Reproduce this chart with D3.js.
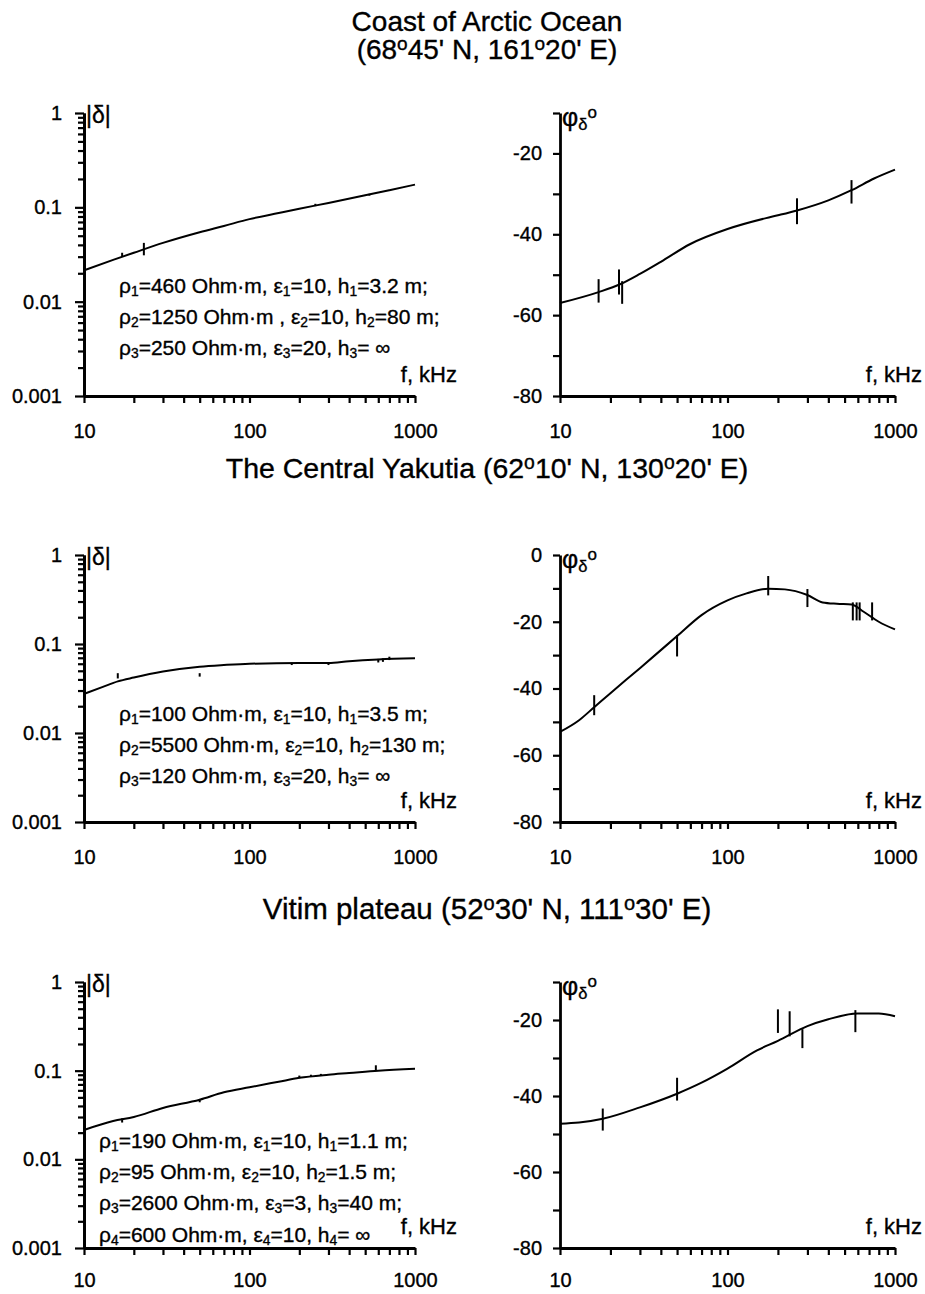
<!DOCTYPE html>
<html>
<head>
<meta charset="utf-8">
<script src="https://cdn.jsdelivr.net/npm/d3@7"></script>
<style>
  body { margin: 0; background: #fff; }
  svg { font-family: "Liberation Sans", Arial, sans-serif; }
  svg text { fill: #000; stroke: #000; stroke-width: 0.35; }
  .axis path { stroke: #000; stroke-width: 2.8; }
  .axis line { stroke: #000; stroke-width: 2.2; }
  .axis text { font-size: 20px; font-family: "Liberation Sans", Arial, sans-serif; }
  .curve { fill: none; stroke: #000; stroke-width: 2; }
  .bar { stroke: #000; stroke-width: 2; }
</style>
</head>
<body>
<svg id="fig" width="925" height="1294"></svg>
<script>

// ---- Coast of Arctic Ocean ----
let arcticFreq  = [10, 15, 20, 30, 50, 70, 100, 150, 200, 300, 500, 700, 1000];
let arcticMag   = [0.0215, 0.0277, 0.033, 0.042, 0.0545, 0.0635, 0.075, 0.087, 0.0966, 0.1114, 0.134, 0.152, 0.174];
let arcticPhFreq = [10, 17, 23, 30, 40, 60, 100, 170, 200, 260, 400, 550, 750, 1000];
let arcticPhase  = [-57, -54.3, -52.3, -49.8, -46.8, -42.4, -38.7, -36, -35.3, -34.1, -31.6, -29.1, -26.2, -24];
// measured points: [f, low, high] for |δ|, [f, value, half-range] for phase
let arcticMagObs   = [[17, 0.030, 0.033], [23, 0.031, 0.042], [250, 0.103, 0.109], [530, 0.133, 0.139]];
let arcticPhaseObs = [[17, -54, 2.9], [22.5, -51.8, 3.1], [23.5, -54.4, 2.8], [260, -34.3, 3.2], [550, -29.5, 2.9]];
let arcticParams = [
    'ρ_1=460 Ohm·m, ε_1=10, h_1=3.2 m;',
    'ρ_2=1250 Ohm·m , ε_2=10, h_2=80 m;',
    'ρ_3=250 Ohm·m, ε_3=20, h_3= ∞'
];

// ---- The Central Yakutia ----
let yakutFreq  = [10, 13, 16, 20, 30, 50, 70, 100, 200, 300, 400, 600, 1000];
let yakutMag   = [0.0275, 0.033, 0.038, 0.042, 0.049, 0.0555, 0.058, 0.060, 0.061, 0.061, 0.064, 0.067, 0.069];
let yakutPhFreq = [10, 13, 16, 20, 30, 40, 50, 70, 100, 130, 175, 220, 300, 370, 450, 550, 650, 800, 1000];
let yakutPhase  = [-53, -49.5, -45.6, -41.4, -33.9, -28.5, -24.3, -18, -13.6, -11.5, -10.1, -10.3, -12, -14.2, -14.6, -14.8, -17, -20, -22.3];
let yakutMagObs   = [[16, 0.041, 0.047], [50, 0.043, 0.047], [180, 0.058, 0.062], [300, 0.058, 0.062],
                     [600, 0.062, 0.068], [640, 0.063, 0.069], [700, 0.066, 0.072]];
let yakutPhaseObs = [[16, -45, 3], [50, -27.2, 3.2], [175, -9.2, 2.9], [300, -12.9, 2.7],
                     [560, -16.9, 2.7], [590, -16.9, 2.7], [615, -16.9, 2.7], [730, -16.9, 2.7]];
let yakutParams = [
    'ρ_1=100 Ohm·m, ε_1=10, h_1=3.5 m;',
    'ρ_2=5500 Ohm·m, ε_2=10, h_2=130 m;',
    'ρ_3=120 Ohm·m, ε_3=20, h_3= ∞'
];

// ---- Vitim plateau ----
let vitimFreq  = [10, 15, 20, 30, 50, 70, 100, 150, 200, 300, 400, 600, 1000];
let vitimMag   = [0.0214, 0.027, 0.030, 0.038, 0.047, 0.057, 0.065, 0.075, 0.083, 0.090, 0.094, 0.100, 0.105];
let vitimPhFreq = [10, 13, 18, 30, 50, 70, 100, 150, 200, 300, 400, 600, 800, 1000];
let vitimPhase  = [-47.3, -47, -46, -43, -39.4, -36.5, -32.8, -28, -25.5, -21.6, -19.8, -18.3, -18.3, -19];
let vitimMagObs   = [[17, 0.026, 0.029], [50, 0.044, 0.048], [200, 0.082, 0.088], [235, 0.085, 0.090],
                     [270, 0.087, 0.092], [580, 0.100, 0.115]];
let vitimPhaseObs = [[18, -46.2, 2.9], [50, -38.2, 3], [200, -20.3, 3.1], [235, -21, 3.3],
                     [280, -24.9, 2.5], [580, -20.3, 2.9]];
let vitimParams = [
    'ρ_1=190 Ohm·m, ε_1=10, h_1=1.1 m;',
    'ρ_2=95 Ohm·m, ε_2=10, h_2=1.5 m;',
    'ρ_3=2600 Ohm·m, ε_3=3, h_3=40 m;',
    'ρ_4=600 Ohm·m, ε_4=10, h_4= ∞'
];

// titles; ^o marks a raised "o"
let titles = [
    ['Coast of Arctic Ocean', '(68^o45\' N, 161^o20\' E)'],
    ['The Central Yakutia (62^o10\' N, 130^o20\' E)'],
    ['Vitim plateau (52^o30\' N, 111^o30\' E)']
];

let freqMajor = [10, 100, 1000];
let freqTicks = [];
[10, 100].forEach(d => { for (let k = 1; k < 10; k++) freqTicks.push(d * k); });
freqTicks.push(1000);

let magMajor = [0.001, 0.01, 0.1, 1];
let magMinor = [];
[0.001, 0.01, 0.1].forEach(d => { for (let k = 2; k < 10; k++) magMinor.push(d * k); });

// ---- layout of the six panels (pixels) ----
let rows = [
    { top: 113, bottom: 396, gap: 35, phTop: -10, titleY: [31, 59], titleSize: 28,
      freq: arcticFreq, mag: arcticMag, phFreq: arcticPhFreq, phase: arcticPhase,
      magObs: arcticMagObs, phObs: arcticPhaseObs, params: arcticParams, paramX: 119, paramY: 293 },
    { top: 555, bottom: 822, gap: 35, phTop: 0, titleY: [478], titleSize: 28.5,
      freq: yakutFreq, mag: yakutMag, phFreq: yakutPhFreq, phase: yakutPhase,
      magObs: yakutMagObs, phObs: yakutPhaseObs, params: yakutParams, paramX: 119, paramY: 721 },
    { top: 982, bottom: 1248, gap: 32, phTop: -10, titleY: [919], titleSize: 29.5,
      freq: vitimFreq, mag: vitimMag, phFreq: vitimPhFreq, phase: vitimPhase,
      magObs: vitimMagObs, phObs: vitimPhaseObs, params: vitimParams, paramX: 99, paramY: 1148 }
];

let leftX = [84, 415], rightX = [560, 895];
let paramStep = 31.2;

let svg = d3.select('#fig');

/** writes a string into a text element; _x makes x a subscript, ^x a superscript */
function richText(text, str, size) {
    str.split(/([_^].)/).forEach(s => {
        if (!s) return;
        if (s.length === 2 && s[0] === '_')
            text.append('tspan').attr('font-size', size * 0.66).attr('baseline-shift', '-22%').text(s[1]);
        else if (s.length === 2 && s[0] === '^')
            text.append('tspan').attr('font-size', size * 0.68).attr('baseline-shift', '45%').text(s[1]);
        else
            text.append('tspan').text(s);
    });
    return text;
}

function freqAxis(g, x, row) {
    g.append('g')
        .attr('class', 'axis')
        .attr('transform', `translate(0,${row.bottom})`)
        .call(d3.axisBottom(x)
            .tickValues(freqTicks)
            .tickSize(7)
            .tickSizeOuter(0)
            .tickPadding(row.gap - 14)
            .tickFormat(d => freqMajor.includes(d) ? d : ''));
}

function kHzLabel(g, xRight, row) {
    g.append('text')
        .attr('x', xRight).attr('y', row.bottom - 14)
        .attr('text-anchor', 'end')
        .attr('font-size', 22)
        .text('f, kHz');
}

function magPanel(g, row) {
    let x = d3.scaleLog().domain([10, 1000]).range(leftX);
    let y = d3.scaleLog().domain([0.001, 1]).range([row.bottom, row.top]);

    // minor ticks first, then the labelled decades
    g.append('g')
        .attr('class', 'axis')
        .attr('transform', `translate(${leftX[0]},0)`)
        .call(d3.axisLeft(y).tickValues(magMinor).tickSize(6).tickSizeOuter(0).tickFormat(''));
    g.append('g')
        .attr('class', 'axis')
        .attr('transform', `translate(${leftX[0]},0)`)
        .call(d3.axisLeft(y).tickValues(magMajor).tickSize(9).tickSizeOuter(0).tickPadding(13)
            .tickFormat(d => d3.format('~g')(d)));

    freqAxis(g, x, row);

    let line = d3.line().x((d, i) => x(row.freq[i])).y(d => y(d)).curve(d3.curveMonotoneX);
    g.append('path').attr('class', 'curve').attr('d', line(row.mag));

    g.selectAll('.bar').data(row.magObs).join('line')
        .attr('class', 'bar')
        .attr('x1', d => x(d[0])).attr('x2', d => x(d[0]))
        .attr('y1', d => y(d[1])).attr('y2', d => y(d[2]));

    richText(g.append('text').attr('x', leftX[0] + 2).attr('y', row.top + 10).attr('font-size', 23), '|δ|', 23);

    row.params.forEach((s, i) => {
        richText(g.append('text')
            .attr('x', row.paramX).attr('y', row.paramY + i * paramStep)
            .attr('font-size', 21), s, 21);
    });
    kHzLabel(g, 457, row);
}

function phasePanel(g, row) {
    let x = d3.scaleLog().domain([10, 1000]).range(rightX);
    let y = d3.scaleLinear().domain([-80, row.phTop]).range([row.bottom, row.top]);

    g.append('g')
        .attr('class', 'axis')
        .attr('transform', `translate(${rightX[0]},0)`)
        .call(d3.axisLeft(y).tickValues(d3.range(-80, row.phTop + 1, 10))
            .tickSize(7).tickSizeOuter(0).tickPadding(11)
            .tickFormat(d => d % 20 === 0 ? d : ''));

    freqAxis(g, x, row);

    let line = d3.line().x((d, i) => x(row.phFreq[i])).y(d => y(d)).curve(d3.curveMonotoneX);
    g.append('path').attr('class', 'curve').attr('d', line(row.phase));

    g.selectAll('.bar').data(row.phObs).join('line')
        .attr('class', 'bar')
        .attr('x1', d => x(d[0])).attr('x2', d => x(d[0]))
        .attr('y1', d => y(d[1] - d[2])).attr('y2', d => y(d[1] + d[2]));

    richText(g.append('text').attr('x', rightX[0] + 2).attr('y', row.top + 13).attr('font-size', 25), 'φ_δ^o', 25);

    kHzLabel(g, 922, row);
}

rows.forEach((row, i) => {
    titles[i].forEach((t, k) => {
        richText(svg.append('text')
            .attr('x', 487).attr('y', row.titleY[k])
            .attr('text-anchor', 'middle')
            .attr('font-size', row.titleSize), t, row.titleSize);
    });
    magPanel(svg.append('g'), row);
    phasePanel(svg.append('g'), row);
});

</script>
</body>
</html>
